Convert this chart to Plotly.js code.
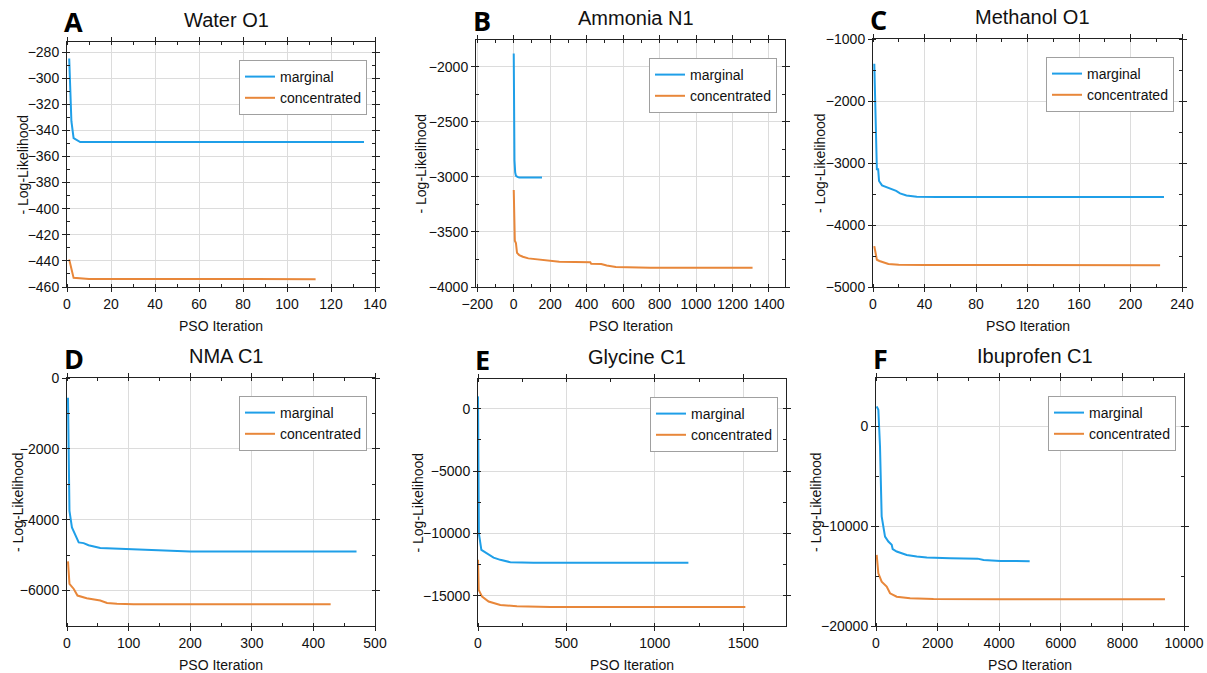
<!DOCTYPE html>
<html>
<head>
<meta charset="utf-8">
<script src="https://cdn.plot.ly/plotly-3.0.1.min.js"></script>
<style>html,body{margin:0;padding:0;background:#fff;}#chart{width:1207px;height:673px;}</style>
</head>
<body>
<div id="chart"></div>
<script>
// ---- Data ----
var panelLetters = ["A", "B", "C", "D", "E", "F"];
var panelTitles = ["Water O1", "Ammonia N1", "Methanol O1", "NMA C1", "Glycine C1", "Ibuprofen C1"];
var seriesNames = ["marginal", "concentrated"];

var waterMargX = [1, 1.5, 2, 3, 4, 6, 135];
var waterMargY = [-285, -310, -333, -346, -347, -349, -349];
var waterConcX = [1, 3, 10, 113];
var waterConcY = [-439, -453, -453.8, -454];

var ammoniaMargX = [0, 2, 4, 8, 12, 20, 30, 155];
var ammoniaMargY = [-1880, -2500, -2850, -2960, -2990, -3000, -3005, -3005];
var ammoniaConcX = [0, 3, 6, 12, 18, 30, 50, 80, 150, 250, 420, 425, 480, 510, 560, 650, 750, 1310];
var ammoniaConcY = [-3120, -3560, -3580, -3600, -3690, -3710, -3725, -3740, -3755, -3770, -3775, -3790, -3792, -3805, -3818, -3823, -3826, -3826];

var methanolMargX = [1, 2, 3, 4, 4.7, 7, 11.5, 15.5, 18, 21, 26, 34, 50, 226];
var methanolMargY = [-1400, -2300, -3100, -3100, -3290, -3360, -3400, -3440, -3450, -3490, -3525, -3545, -3550, -3550];
var methanolConcX = [1, 2, 3, 5, 8, 12, 20, 40, 223];
var methanolConcY = [-4340, -4450, -4560, -4580, -4600, -4630, -4640, -4645, -4650];

var nmaMargX = [1.6, 3, 4, 8, 13.5, 19, 27, 35, 54, 100, 146, 200, 470];
var nmaMargY = [-560, -2500, -3750, -4220, -4450, -4640, -4660, -4720, -4800, -4830, -4875, -4895, -4895];
var nmaConcX = [1.6, 4, 11, 17, 32, 54, 65, 81, 108, 428];
var nmaConcY = [-5175, -5810, -5955, -6140, -6215, -6280, -6350, -6375, -6385, -6385];

var glycineMargX = [0, 3, 5, 19, 51, 88, 126, 183, 314, 1190];
var glycineMargY = [990, -6000, -10000, -11330, -11600, -11950, -12130, -12320, -12370, -12370];
var glycineConcX = [0, 4, 23, 60, 126, 220, 408, 1512];
var glycineConcY = [-12130, -14540, -15080, -15480, -15750, -15860, -15910, -15910];

var ibuprofenMargX = [22, 76, 130, 184, 293, 401, 510, 542, 672, 998, 1323, 1649, 2408, 3167, 3300, 3492, 4035, 4989];
var ibuprofenMargY = [2000, 1670, -2000, -9030, -11040, -11540, -11870, -12300, -12540, -12880, -13040, -13140, -13210, -13210, -13250, -13380, -13480, -13510];
var ibuprofenConcX = [22, 76, 184, 347, 456, 672, 1106, 1866, 4035, 9382];
var ibuprofenConcY = [-12880, -14720, -15550, -16050, -16720, -17060, -17220, -17290, -17320, -17320];

// ---- Per-panel configuration (styling / layout) ----
var W = 1207, H = 673;
var panels = [
  {mx: waterMargX, my: waterMargY, cx: waterConcX, cy: waterConcY,
   box: [67, 375, 42, 287], xr: [0, 140], yr: [-460, -272.3], xd: 20, xm: 10, yd: 20, ym: 10},
  {mx: ammoniaMargX, my: ammoniaMargY, cx: ammoniaConcX, cy: ammoniaConcY,
   box: [476, 785, 40, 287], xr: [-207, 1488], yr: [-4000, -1757], xd: 200, xm: 100, yd: 500, ym: 250},
  {mx: methanolMargX, my: methanolMargY, cx: methanolConcX, cy: methanolConcY,
   box: [873, 1182, 39, 287], xr: [0, 240], yr: [-5000, -1000], xd: 40, xm: 20, yd: 1000, ym: 500},
  {mx: nmaMargX, my: nmaMargY, cx: nmaConcX, cy: nmaConcY,
   box: [67, 375, 378, 626], xr: [0, 500], yr: [-7000, 0], xd: 100, xm: 50, yd: 2000, ym: 1000},
  {mx: glycineMargX, my: glycineMargY, cx: glycineConcX, cy: glycineConcY,
   box: [478, 786, 379, 626], xr: [0, 1742], yr: [-17440, 2385], xd: 500, xm: 250, yd: 5000, ym: 2500},
  {mx: ibuprofenMargX, my: ibuprofenMargY, cx: ibuprofenConcX, cy: ibuprofenConcY,
   box: [876, 1184, 378, 626], xr: [0, 10000], yr: [-20000, 4850], xd: 2000, xm: 1000, yd: 10000, ym: 5000}
];

var blue = "#1f9fe8", orange = "#e8873a";
var fontFam = "Liberation Sans, Arial, sans-serif";
var data = [];
var layout = {
  width: W, height: H, margin: {l: 0, r: 0, t: 0, b: 0},
  paper_bgcolor: "#fff", plot_bgcolor: "#fff", showlegend: true,
  font: {family: fontFam, size: 14, color: "#111"},
  annotations: []
};

panels.forEach(function (p, i) {
  var n = i + 1;
  var xa = "x" + (n === 1 ? "" : n), ya = "y" + (n === 1 ? "" : n);
  var xkey = "xaxis" + (n === 1 ? "" : n), ykey = "yaxis" + (n === 1 ? "" : n);
  var lkey = "legend" + (n === 1 ? "" : n);
  data.push({x: p.mx, y: p.my, xaxis: xa, yaxis: ya, mode: "lines", name: seriesNames[0],
             line: {color: blue, width: 2}, legend: lkey});
  data.push({x: p.cx, y: p.cy, xaxis: xa, yaxis: ya, mode: "lines", name: seriesNames[1],
             line: {color: orange, width: 2}, legend: lkey});
  var b = p.box;
  var axCommon = {showline: true, linecolor: "#222", linewidth: 1, mirror: "ticks",
                  ticks: "outside", ticklen: 4, tickcolor: "#222", showgrid: true,
                  gridcolor: "#dcdcdc", gridwidth: 1, zeroline: false, fixedrange: true,
                  exponentformat: "none", separatethousands: false, tickformat: "d",
                  tickfont: {family: fontFam, size: 14, color: "#111"}};
  layout[xkey] = Object.assign({}, axCommon, {
    domain: [b[0] / W, b[1] / W], anchor: ya, range: p.xr, dtick: p.xd, tick0: 0,
    minor: {dtick: p.xm, tick0: 0, ticks: "inside", ticklen: 3, tickcolor: "#222", showgrid: false}
  });
  layout[ykey] = Object.assign({}, axCommon, {
    domain: [1 - b[3] / H, 1 - b[2] / H], anchor: xa, range: p.yr, dtick: p.yd, tick0: 0,
    minor: {dtick: p.ym, tick0: 0, ticks: "inside", ticklen: 3, tickcolor: "#222", showgrid: false}
  });
  layout[lkey] = {x: (b[1] - 8) / W, xanchor: "right", y: 1 - (b[2] + 18) / H, yanchor: "top",
                  bgcolor: "#fff", bordercolor: "#a0a0a0", borderwidth: 1,
                  font: {family: fontFam, size: 14, color: "#111"}, tracegroupgap: 0,
                  itemwidth: 30};
  var cx = (b[0] + b[1]) / 2;
  // Title
  layout.annotations.push({text: panelTitles[i], xref: "paper", yref: "paper",
    x: (cx + 5) / W, y: 1 - (b[2] - 22) / H, xanchor: "center", yanchor: "middle",
    showarrow: false, font: {family: fontFam, size: 20, color: "#111"}});
  // Panel letter
  layout.annotations.push({text: "<b>" + panelLetters[i] + "</b>", xref: "paper", yref: "paper",
    x: (b[0] - 5) / W, y: 1 - (b[2] - 20) / H, xanchor: "left", yanchor: "middle",
    showarrow: false, font: {family: "Open Sans, DejaVu Sans, sans-serif", size: 27, color: "#000"}});
  // Axis titles
  layout.annotations.push({text: "PSO Iteration", xref: "paper", yref: "paper",
    x: cx / W, y: 1 - (b[3] + 39) / H, xanchor: "center", yanchor: "middle",
    showarrow: false, font: {family: fontFam, size: 14, color: "#111"}});
  var ytx = [22, 420, 820, 18, 417, 816][i];
  layout.annotations.push({text: "- Log-Likelihood", xref: "paper", yref: "paper", textangle: -90,
    x: ytx / W, y: 1 - ((b[2] + b[3]) / 2) / H, xanchor: "center", yanchor: "middle",
    showarrow: false, font: {family: fontFam, size: 14, color: "#111"}});
});

Plotly.newPlot("chart", data, layout, {displayModeBar: false, staticPlot: true});
</script>
</body>
</html>
